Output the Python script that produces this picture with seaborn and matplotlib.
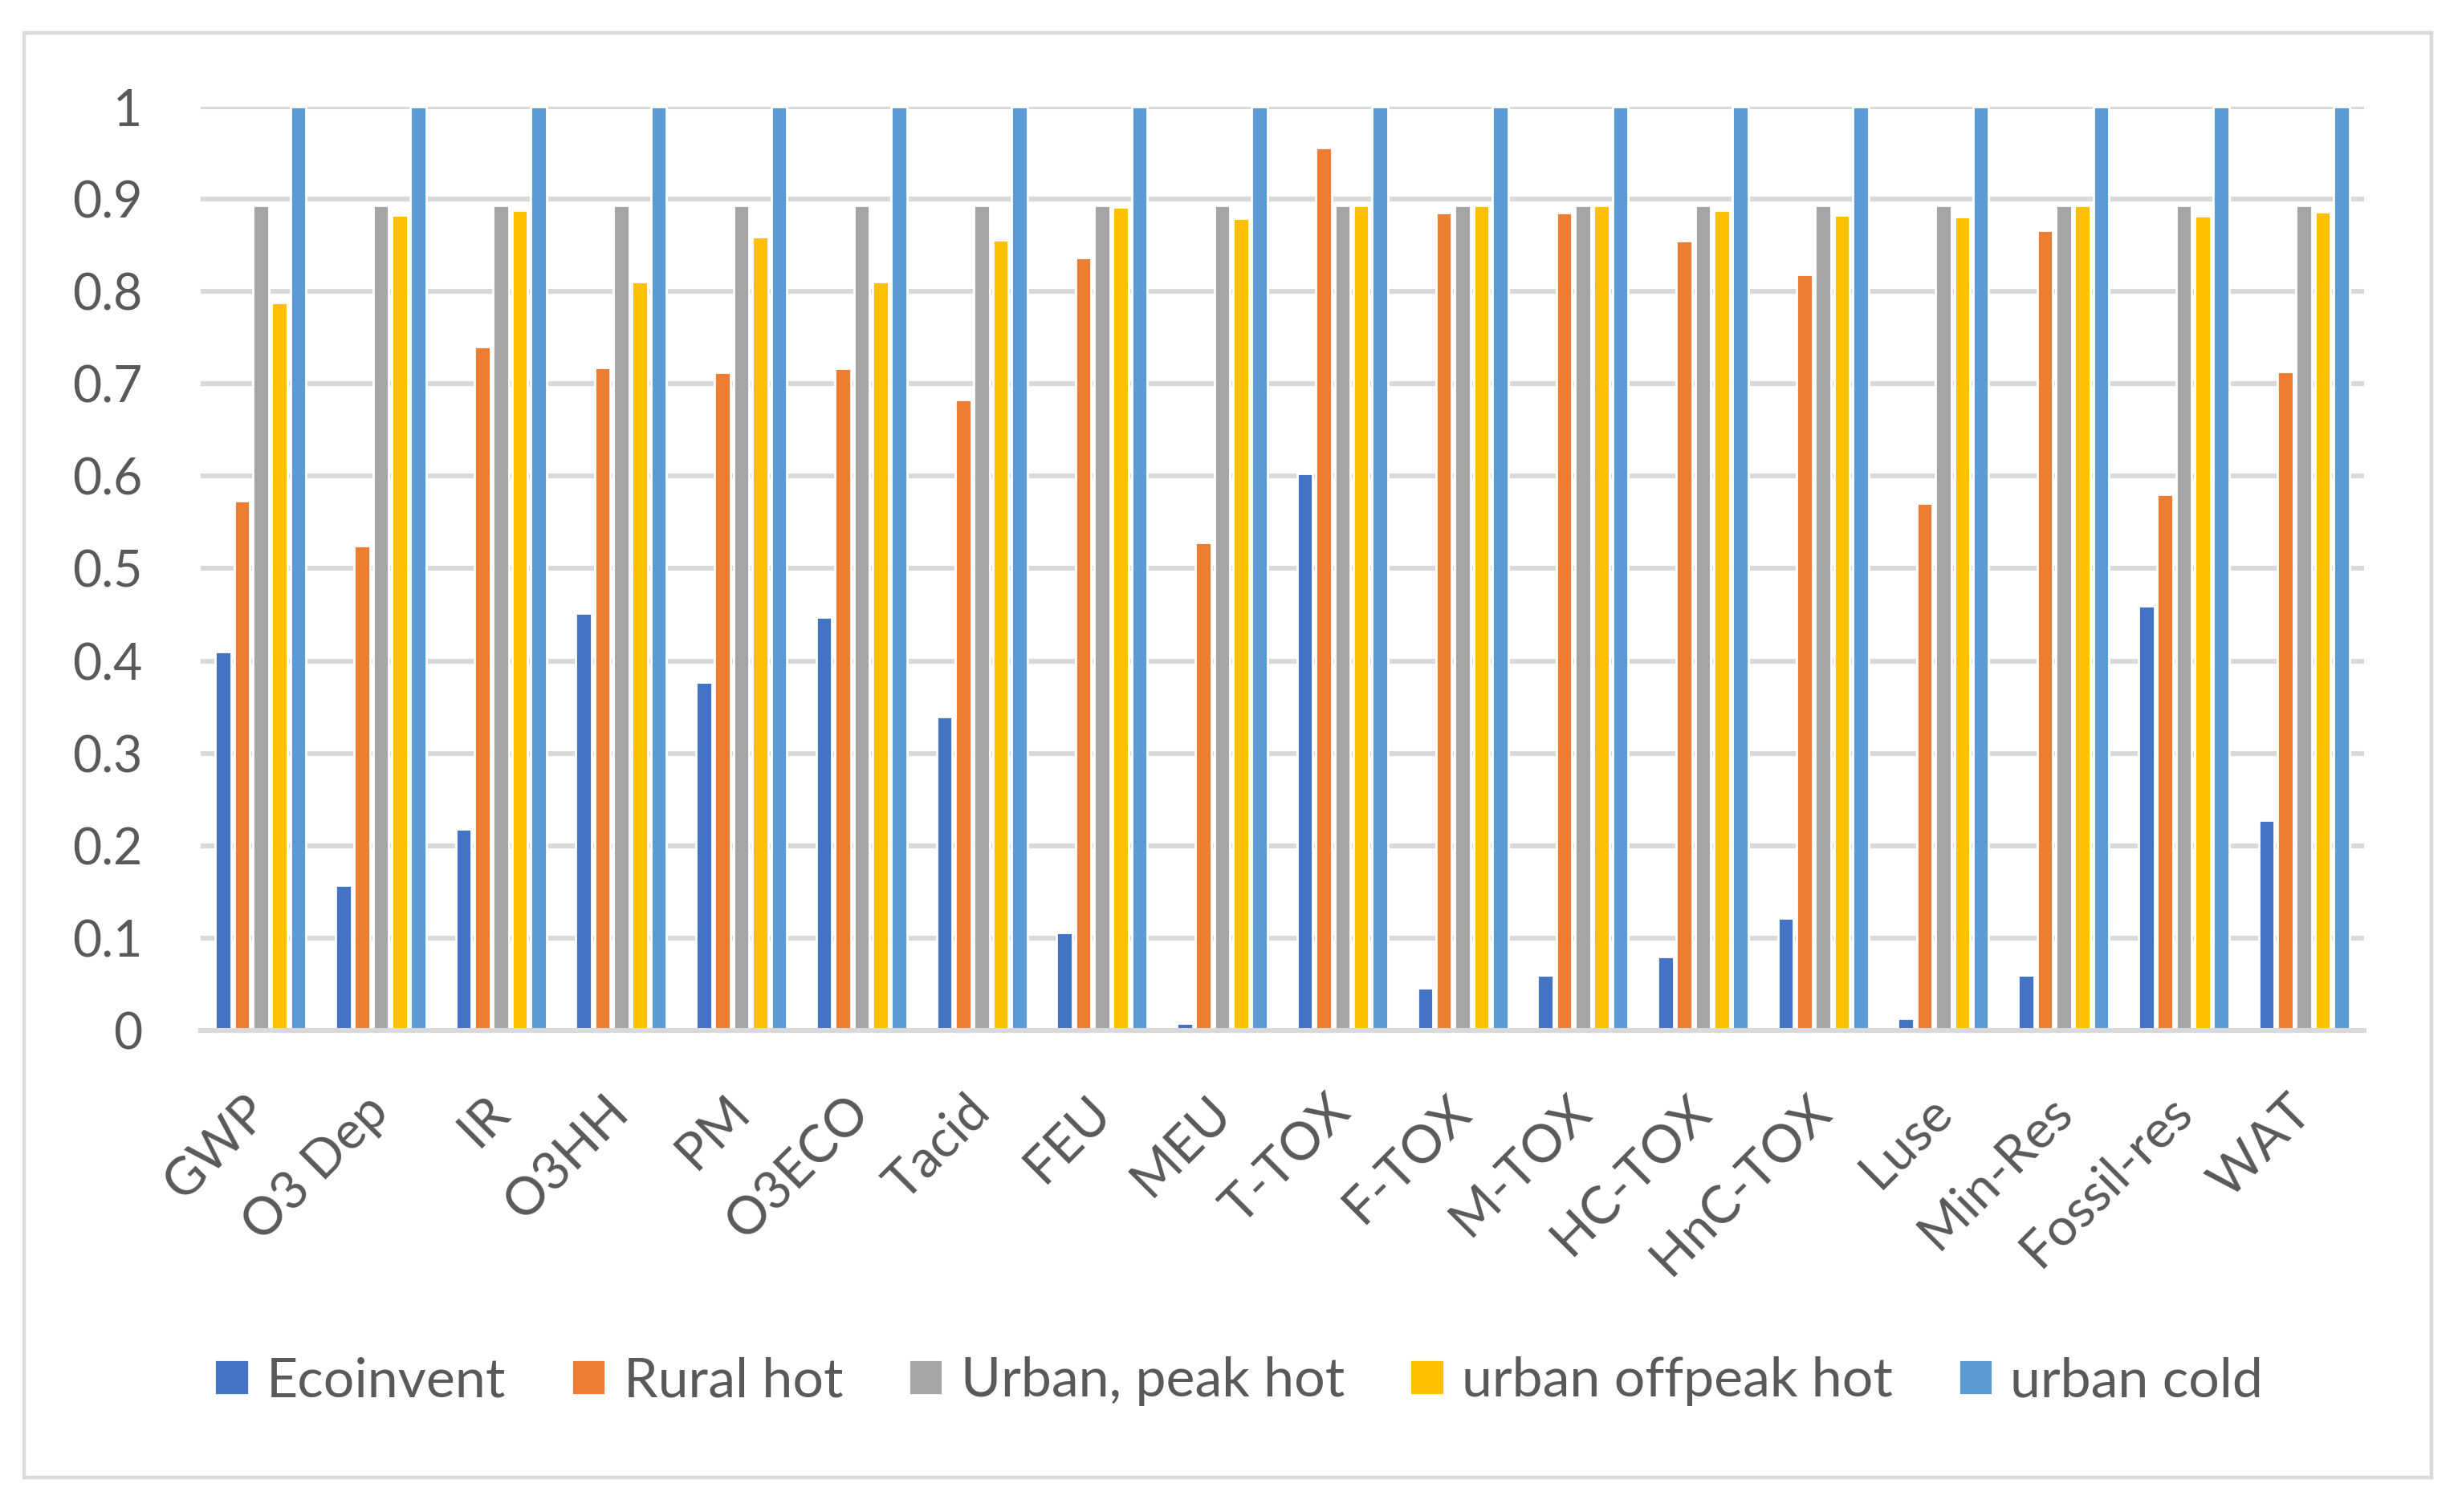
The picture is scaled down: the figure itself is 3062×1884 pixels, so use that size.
import pandas as pd
import matplotlib
matplotlib.use('Agg')
import matplotlib.pyplot as plt
import seaborn as sns
from matplotlib.patches import Rectangle

# Impact categories and series values
categories = ['GWP', 'O3 Dep', 'IR', 'O3HH', 'PM', 'O3ECO', 'Tacid', 'FEU', 'MEU',
              'T-TOX', 'F-TOX', 'M-TOX', 'HC-TOX', 'HnC-TOX', 'Luse', 'Min-Res',
              'Fossil-res', 'WAT']
ecoinvent = [0.41, 0.157, 0.218, 0.452, 0.377, 0.447, 0.34, 0.106, 0.008,
             0.603, 0.046, 0.06, 0.08, 0.122, 0.013, 0.06, 0.46, 0.228]
rural_hot = [0.573, 0.525, 0.74, 0.718, 0.712, 0.717, 0.683, 0.837, 0.528,
             0.956, 0.885, 0.885, 0.855, 0.818, 0.571, 0.866, 0.58, 0.713]
urban_peak_hot = [0.893] * 18
urban_offpeak_hot = [0.788, 0.883, 0.888, 0.811, 0.859, 0.811, 0.856, 0.891, 0.879,
                     0.893, 0.893, 0.893, 0.888, 0.883, 0.881, 0.893, 0.882, 0.886]
urban_cold = [1.0] * 18

series_names = ['Ecoinvent', 'Rural hot', 'Urban, peak hot', 'urban offpeak hot', 'urban cold']
colors = ['#4472C4', '#ED7D31', '#A5A5A5', '#FFC000', '#5B9BD5']

# Build long-form table for seaborn
series_values = [ecoinvent, rural_hot, urban_peak_hot, urban_offpeak_hot, urban_cold]
rows = []
for name, vals in zip(series_names, series_values):
    for cat, v in zip(categories, vals):
        rows.append({'Category': cat, 'Series': name, 'Value': v})
df = pd.DataFrame(rows)

sns.set_style('white')
plt.rcParams['font.family'] = ['Lato', 'DejaVu Sans']
text_color = '#595959'
grid_color = '#D9D9D9'

fig = plt.figure(figsize=(15.31, 9.42), dpi=200)
ax = fig.add_axes([0.0816, 0.3185, 0.8802, 0.6109])

sns.barplot(data=df, x='Category', y='Value', hue='Series', order=categories,
            hue_order=series_names, palette=colors, saturation=1,
            width=0.78, gap=0.16, ax=ax, errorbar=None)

ax.set_ylim(0, 1)
ax.set_xlim(-0.5, len(categories) - 0.5)
ax.set_yticks([i / 10 for i in range(11)])
ax.set_yticklabels(['0'] + [f'{i / 10:.1f}' for i in range(1, 10)] + ['1'])
ax.set_axisbelow(True)
ax.yaxis.grid(True, color=grid_color, linewidth=2.2)
ax.xaxis.grid(False)
for side in ['left', 'right', 'top']:
    ax.spines[side].set_visible(False)
ax.spines['bottom'].set_color(grid_color)
ax.spines['bottom'].set_linewidth(2.2)

ax.tick_params(axis='y', length=0, pad=26, labelsize=22.5, labelcolor=text_color)
ax.tick_params(axis='x', length=0, pad=33, labelsize=23.5, labelcolor=text_color)
plt.setp(ax.get_xticklabels(), rotation=45, ha='right', va='center', rotation_mode='anchor')
ax.set_xlabel('')
ax.set_ylabel('')

# Legend at the bottom
handles, labels = ax.get_legend_handles_labels()
ax.get_legend().remove()
fig.legend(handles, labels, loc='center', bbox_to_anchor=(0.504, 0.0865), ncol=5,
           frameon=False, fontsize=24.5, labelcolor=text_color,
           handlelength=0.62, handleheight=0.62, handletextpad=0.33, columnspacing=1.2)

# Outer chart border
fig.patches.append(Rectangle((30 / 3062, 1 - 1841 / 1884), (3029 - 30) / 3062, (1841 - 41) / 1884,
                             transform=fig.transFigure, fill=False,
                             edgecolor=grid_color, linewidth=1.6))

fig.savefig('out.png', dpi=200)
